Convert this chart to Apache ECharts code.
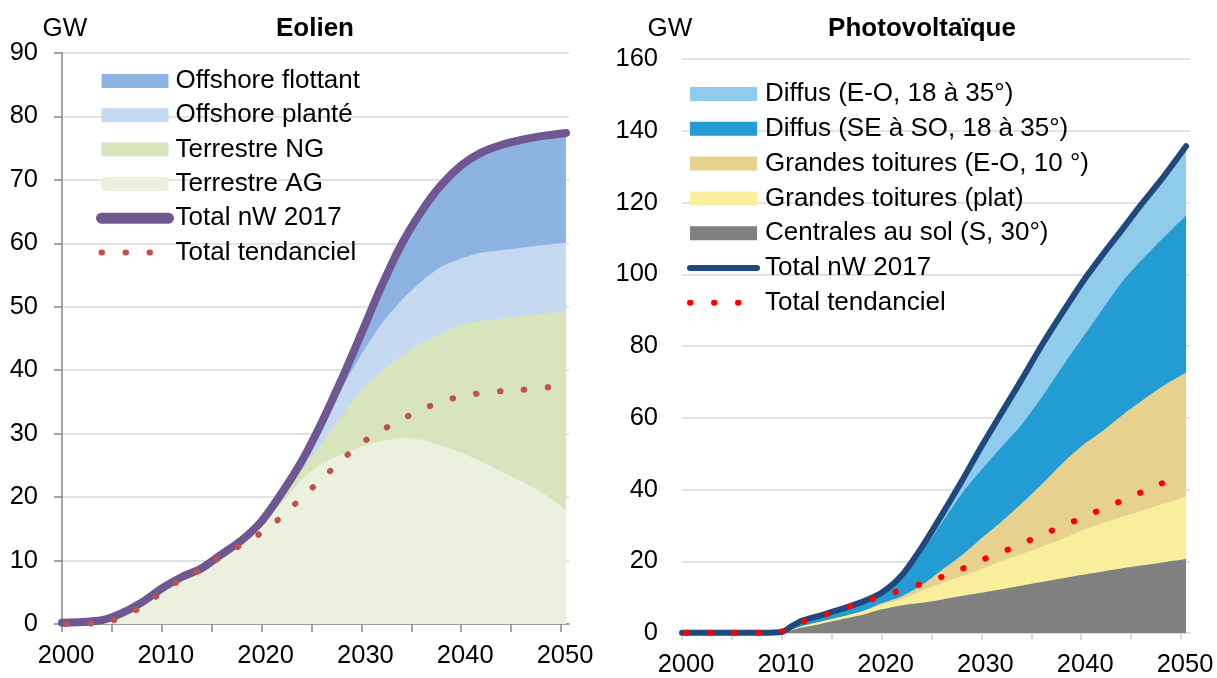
<!DOCTYPE html>
<html>
<head>
<meta charset="utf-8">
<script src="https://cdn.jsdelivr.net/npm/echarts@6/dist/echarts.min.js"></script>
<style>
  html, body { margin: 0; padding: 0; background: #fff; }
  #eolien { position: absolute; left: 0; top: 0; width: 608px; height: 678px; }
  #pv { position: absolute; left: 608px; top: 0; width: 609px; height: 678px; }
</style>
</head>
<body>
<div id="eolien"></div>
<div id="pv"></div>
<script>
// ---------------- Eolien (GW) ----------------
const yearsEol = [2000, 2002, 2004, 2006, 2008, 2010, 2012, 2014, 2016, 2018, 2020, 2022, 2024,
  2026, 2028, 2030, 2032, 2034, 2036, 2038, 2040, 2042, 2044, 2046, 2048, 2050.5];
const terrestreAG = [0.2, 0.3, 0.6, 1.7, 3.4, 5.6, 7.4, 8.8, 11.0, 13.2, 16.2, 19.0, 22.7,
  25.2, 26.7, 28.0, 28.8, 29.3, 29.0, 28.1, 27.0, 25.6, 24.0, 22.5, 20.8, 18.0];
const terrestreNG = [0, 0, 0, 0, 0, 0, 0, 0, 0, 0, 0, 1.0, 1.8,
  3.1, 6.1, 8.8, 11.0, 12.9, 15.3, 17.7, 20.2, 22.2, 24.1, 26.0, 28.1, 31.3];
const offshorePlante = [0, 0, 0, 0, 0, 0, 0, 0, 0, 0, 0, 0.4, 0.7,
  2.7, 4.2, 5.7, 7.5, 8.8, 9.7, 10.5, 10.4, 10.7, 10.8, 10.8, 10.8, 10.8];
const offshoreFlottant = [0, 0, 0, 0, 0, 0, 0, 0, 0, 0, 0, 0.2, 0.4,
  0.7, 1.5, 3.3, 5.9, 8.8, 11.0, 12.9, 14.7, 15.8, 16.6, 17.0, 17.2, 17.3];
const totalEol = [0.2, 0.3, 0.6, 1.7, 3.4, 5.6, 7.4, 8.8, 11.0, 13.2, 16.2, 20.6, 25.6,
  31.7, 38.5, 45.8, 53.2, 59.8, 65.0, 69.2, 72.3, 74.3, 75.5, 76.3, 76.9, 77.4];
const yearsTendEol = [2000, 2003, 2005, 2008, 2010, 2012, 2014, 2016, 2018, 2020, 2022, 2024, 2026,
  2028, 2030, 2032, 2034, 2036, 2038, 2040, 2042, 2044, 2046, 2048, 2050];
const tendEol = [0.0, 0.1, 0.5, 2.7, 5.0, 7.1, 8.6, 10.7, 12.5, 14.4, 16.9, 19.9, 22.8,
  25.8, 28.5, 30.5, 32.2, 33.8, 35.0, 35.9, 36.4, 36.7, 36.9, 37.2, 37.5];

// ---------------- Photovoltaique (GW) ----------------
const yearsPv = [2000, 2002, 2004, 2006, 2008, 2010, 2011, 2012, 2014, 2016, 2018, 2020, 2022, 2024,
  2026, 2028, 2030, 2032, 2034, 2036, 2038, 2040, 2042, 2044, 2046, 2048, 2050.5];
const centralesSol = [0, 0, 0, 0, 0, 0, 0.8, 1.5, 2.6, 3.8, 5.0, 6.6, 7.7, 8.4,
  9.3, 10.3, 11.2, 12.2, 13.2, 14.2, 15.2, 16.2, 17.1, 18.0, 18.8, 19.6, 20.6];
const toituresPlat = [0, 0, 0, 0, 0, 0, 0.2, 0.4, 0.6, 0.7, 1.0, 1.3, 1.7, 3.4,
  4.5, 5.5, 6.6, 7.8, 8.8, 9.8, 10.9, 12.3, 13.4, 14.3, 15.2, 16.2, 17.4];
const toituresEO = [0, 0, 0, 0, 0, 0, 0, 0, 0, 0, 0, 0.4, 0.8, 1.5,
  3.7, 5.8, 8.6, 11.0, 14.0, 17.3, 20.9, 23.5, 25.5, 28.2, 30.6, 32.7, 34.6];
const diffusSESO = [0, 0, 0, 0, 0, 0, 0.6, 1.2, 1.4, 1.8, 2.1, 2.3, 4.8, 9.0,
  13.1, 17.1, 19.1, 20.8, 22.0, 24.2, 26.8, 29.8, 33.7, 37.0, 39.2, 41.0, 43.8];
const diffusEO = [0, 0, 0, 0, 0, 0, 0.3, 0.3, 0.4, 0.4, 0.5, 0.6, 1.0, 1.5,
  2.2, 3.5, 6.5, 9.5, 12.5, 14.5, 15.0, 15.5, 15.2, 14.8, 15.6, 16.8, 19.3];
const totalPv = [0.1, 0.1, 0.1, 0.1, 0.1, 0.3, 1.9, 3.4, 5.0, 6.7, 8.6, 11.2, 16.0, 23.8,
  32.8, 42.2, 52.0, 61.3, 70.5, 80.0, 88.8, 97.3, 104.9, 112.1, 119.4, 126.3, 135.7];
const yearsTendPv = [2000, 2008, 2010, 2011, 2012, 2014, 2016, 2018, 2020, 2022, 2024, 2026, 2028,
  2030, 2032, 2034, 2036, 2038, 2040, 2042, 2044, 2046, 2048, 2050];
const tendPv = [0.1, 0.1, 0.4, 1.9, 3.0, 4.8, 6.6, 8.5, 10.3, 12.0, 13.7, 15.6, 17.8,
  20.3, 22.5, 24.8, 27.3, 29.6, 32.0, 34.4, 36.8, 39.2, 41.6, 43.8];

const tickYears = [2000, 2005, 2010, 2015, 2020, 2025, 2030, 2035, 2040, 2045, 2050];
const labelYears = [2000, 2010, 2020, 2030, 2040, 2050];

const FONT = "'Liberation Sans', Arial, sans-serif";
const DOTS = [0.5, 23.5];

// running sums, bottom layer first
function cumulate(layers) {
  let run = layers[0].map(() => 0);
  return layers.map(l => (run = run.map((v, i) => v + l[i])));
}
function pairs(xs, ys) { return xs.map((x, i) => [x, ys[i]]); }

// areas are drawn biggest first so each band shows over the one before
function band(name, color, xs, ys) {
  return {
    name, type: 'line', data: pairs(xs, ys), smooth: 0.25, symbol: 'none',
    lineStyle: { width: 0 }, itemStyle: { color }, areaStyle: { color, opacity: 1 },
    silent: true, emphasis: { disabled: true }
  };
}
function total(name, color, width, xs, ys) {
  return {
    name, type: 'line', data: pairs(xs, ys), smooth: 0.25, symbol: 'none',
    lineStyle: { color, width, cap: 'round', join: 'round' }, itemStyle: { color },
    silent: true, emphasis: { disabled: true }
  };
}
function dotted(name, color, xs, ys) {
  return {
    name, type: 'line', data: pairs(xs, ys), smooth: 0.25, symbol: 'none',
    lineStyle: { color, width: 6, type: DOTS, cap: 'round', dashOffset: 19.6 },
    itemStyle: { color }, silent: true, emphasis: { disabled: true }
  };
}

function xAxisOpt(max, lineColor, lineWidth, tickLen) {
  return {
    type: 'value', min: 2000, max,
    splitLine: { show: false },
    axisLine: { lineStyle: { color: lineColor, width: lineWidth } },
    axisTick: { show: true, length: tickLen, customValues: tickYears, lineStyle: { color: lineColor, width: lineWidth } },
    axisLabel: { customValues: labelYears, formatter: v => String(v), margin: 19, fontSize: 25.5,
      color: '#000', fontFamily: FONT, padding: [0, 0, 0, 8] }
  };
}
function legendOpt(left, top, gap, textGap, names) {
  return {
    orient: 'vertical', left, top, padding: 0, itemWidth: 67, itemHeight: 14, itemGap: gap,
    selectedMode: false, itemStyle: { borderWidth: 0 },
    textStyle: { fontSize: 26, color: '#000', fontFamily: FONT, lineHeight: 30, padding: [0, 0, 0, textGap] },
    data: names
  };
}
function titles(center, text, gwCenter) {
  return [
    { text, left: center, top: 16, textAlign: 'center', padding: 0,
      textStyle: { fontSize: 26, fontWeight: 'bold', color: '#000', fontFamily: FONT } },
    { text: 'GW', left: gwCenter, top: 16, textAlign: 'center', padding: 0,
      textStyle: { fontSize: 26, fontWeight: 'normal', color: '#000', fontFamily: FONT } }
  ];
}

// ---- left chart ----
const eolCum = cumulate([terrestreAG, terrestreNG, offshorePlante, offshoreFlottant]);
const eolChart = echarts.init(document.getElementById('eolien'), null, { renderer: 'canvas' });
eolChart.setOption({
  animation: false,
  title: titles(315, 'Eolien', 65),
  grid: { left: 62, top: 53, width: 507, height: 571 },
  xAxis: xAxisOpt(2050.8, '#868686', 1.5, 8),
  yAxis: {
    type: 'value', min: 0, max: 90, interval: 10,
    axisLine: { show: true, lineStyle: { color: '#868686', width: 1.5 } },
    axisTick: { show: true, length: 8, lineStyle: { color: '#868686', width: 1.5 } },
    splitLine: { lineStyle: { color: '#D9D9D9', width: 1.5 } },
    axisLabel: { margin: 24, fontSize: 25.5, color: '#000', fontFamily: FONT }
  },
  legend: legendOpt(96, 66, 4.3, 2, [
    { name: 'Offshore flottant', icon: 'rect' },
    { name: 'Offshore planté', icon: 'rect' },
    { name: 'Terrestre NG', icon: 'rect' },
    { name: 'Terrestre AG', icon: 'rect' },
    { name: 'Total nW 2017', itemStyle: { opacity: 0 }, lineStyle: { width: 11, cap: 'round' } },
    { name: 'Total tendanciel', itemStyle: { opacity: 0 }, lineStyle: { width: 6, type: DOTS, cap: 'round', dashOffset: 0 } }
  ]),
  series: [
    band('Offshore flottant', '#8DB3E2', yearsEol, eolCum[3]),
    band('Offshore planté', '#C5D9F1', yearsEol, eolCum[2]),
    band('Terrestre NG', '#D8E4BC', yearsEol, eolCum[1]),
    band('Terrestre AG', '#EBF1DE', yearsEol, eolCum[0]),
    total('Total nW 2017', '#6F5792', 8, yearsEol, totalEol),
    dotted('Total tendanciel', '#C0504D', yearsTendEol, tendEol)
  ]
});

// ---- right chart ----
const pvCum = cumulate([centralesSol, toituresPlat, toituresEO, diffusSESO, diffusEO]);
const pvChart = echarts.init(document.getElementById('pv'), null, { renderer: 'canvas' });
pvChart.setOption({
  animation: false,
  title: titles(314, 'Photovoltaïque', 62),
  grid: { left: 74, top: 59, width: 508, height: 578 },
  xAxis: xAxisOpt(2050.9, '#D9D9D9', 2, 7),
  yAxis: {
    type: 'value', min: 0, max: 160, interval: 20,
    axisLine: { show: false }, axisTick: { show: false },
    splitLine: { lineStyle: { color: '#D9D9D9', width: 1.5 } },
    axisLabel: { margin: 24, fontSize: 25.5, color: '#000', fontFamily: FONT }
  },
  legend: legendOpt(79, 79, 4.8, 3, [
    { name: 'Diffus (E-O, 18 à 35°)', icon: 'rect' },
    { name: 'Diffus (SE à SO, 18 à 35°)', icon: 'rect' },
    { name: 'Grandes toitures (E-O, 10 °)', icon: 'rect' },
    { name: 'Grandes toitures (plat)', icon: 'rect' },
    { name: 'Centrales au sol (S, 30°)', icon: 'rect' },
    { name: 'Total nW 2017', itemStyle: { opacity: 0 }, lineStyle: { width: 6, cap: 'round' } },
    { name: 'Total tendanciel', itemStyle: { opacity: 0 }, lineStyle: { width: 6, type: DOTS, cap: 'round', dashOffset: 0 } }
  ]),
  series: [
    band('Diffus (E-O, 18 à 35°)', '#8FCBEB', yearsPv, pvCum[4]),
    band('Diffus (SE à SO, 18 à 35°)', '#229CD3', yearsPv, pvCum[3]),
    band('Grandes toitures (E-O, 10 °)', '#E6D28E', yearsPv, pvCum[2]),
    band('Grandes toitures (plat)', '#F9EE9C', yearsPv, pvCum[1]),
    band('Centrales au sol (S, 30°)', '#808080', yearsPv, pvCum[0]),
    total('Total nW 2017', '#1F497D', 6, yearsPv, totalPv),
    dotted('Total tendanciel', '#FF0000', yearsTendPv, tendPv)
  ]
});
</script>
</body>
</html>
